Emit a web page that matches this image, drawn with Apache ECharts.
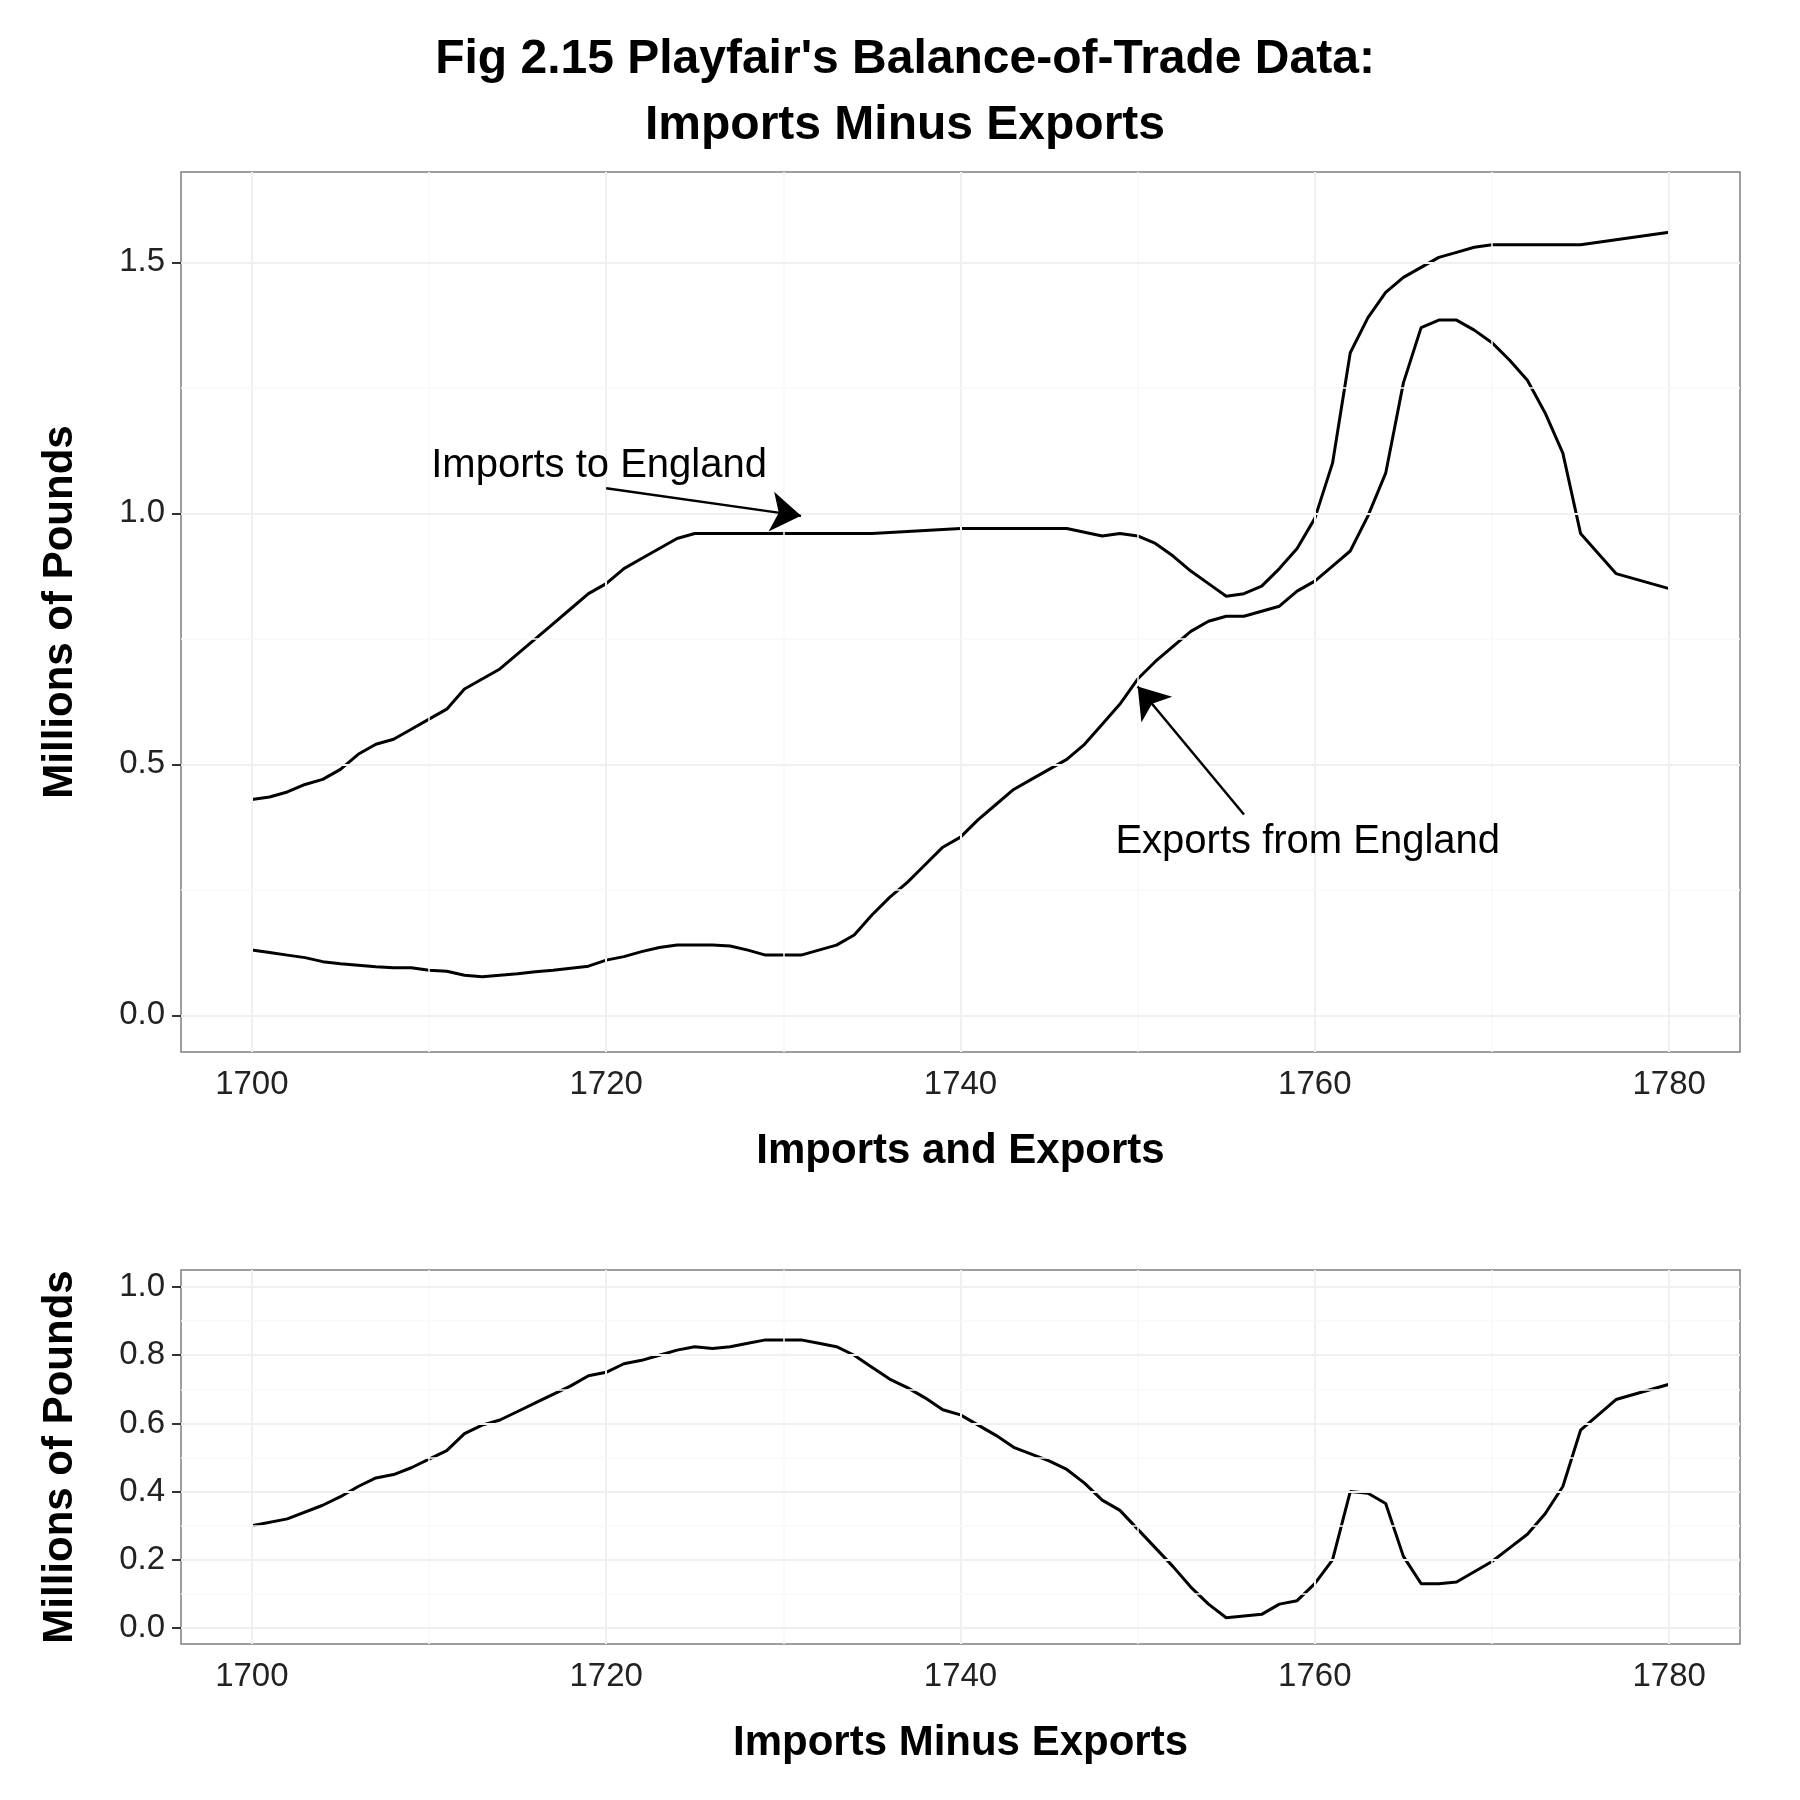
<!DOCTYPE html>
<html>
<head>
<meta charset="utf-8">
<script src="https://cdn.jsdelivr.net/npm/echarts@6/dist/echarts.min.js"></script>
<style>body{margin:0}#main{width:1800px;height:1800px}</style>
</head>
<body>
<div id="main"></div>
<script>
var impYears = [1700,1701,1702,1703,1704,1705,1706,1707,1708,1709,1710,1711,1712,1713,1714,1715,1716,1717,1718,1719,1720,1721,1722,1723,1724,1725,1730,1735,1740,1746,1748,1749,1750,1751,1752,1753,1754,1755,1756,1757,1758,1759,1760,1761,1762,1763,1764,1765,1766,1767,1768,1769,1770,1775,1780];
var imports = [0.43,0.435,0.445,0.46,0.47,0.49,0.52,0.54,0.55,0.57,0.59,0.61,0.65,0.67,0.69,0.72,0.75,0.78,0.81,0.84,0.86,0.89,0.91,0.93,0.95,0.96,0.96,0.96,0.97,0.97,0.955,0.96,0.955,0.94,0.915,0.885,0.86,0.835,0.84,0.855,0.89,0.93,0.99,1.1,1.32,1.39,1.44,1.47,1.49,1.51,1.52,1.53,1.535,1.535,1.56];
var expYears = [1700,1701,1702,1703,1704,1705,1706,1707,1708,1709,1710,1711,1712,1713,1714,1715,1716,1717,1718,1719,1720,1721,1722,1723,1724,1725,1726,1727,1728,1729,1730,1731,1732,1733,1734,1735,1736,1737,1738,1739,1740,1741,1742,1743,1744,1745,1746,1747,1748,1749,1750,1751,1752,1753,1754,1755,1756,1757,1758,1759,1760,1761,1762,1763,1764,1765,1766,1767,1768,1769,1770,1771,1772,1773,1774,1775,1777,1780];
var exportsV = [0.13,0.125,0.12,0.115,0.107,0.103,0.1,0.097,0.095,0.095,0.09,0.088,0.08,0.077,0.08,0.083,0.087,0.09,0.094,0.098,0.11,0.117,0.127,0.135,0.14,0.14,0.14,0.138,0.13,0.12,0.12,0.12,0.13,0.14,0.16,0.2,0.235,0.265,0.3,0.335,0.355,0.39,0.42,0.45,0.47,0.49,0.51,0.54,0.58,0.62,0.67,0.705,0.735,0.765,0.785,0.795,0.795,0.805,0.815,0.845,0.865,0.895,0.925,0.995,1.08,1.26,1.37,1.385,1.385,1.365,1.34,1.305,1.265,1.2,1.12,0.96,0.88,0.85];
var diffYears = [1700,1702,1704,1705,1706,1707,1708,1709,1710,1711,1712,1713,1714,1715,1716,1717,1718,1719,1720,1721,1722,1723,1724,1725,1726,1727,1728,1729,1730,1731,1732,1733,1734,1735,1736,1737,1738,1739,1740,1741,1742,1743,1744,1745,1746,1747,1748,1749,1750,1751,1752,1753,1754,1755,1756,1757,1758,1759,1760,1761,1762,1763,1764,1765,1766,1767,1768,1769,1770,1771,1772,1773,1774,1775,1777,1780];
var diffV = [0.3,0.32,0.36,0.385,0.415,0.44,0.45,0.47,0.495,0.52,0.57,0.595,0.61,0.635,0.66,0.685,0.71,0.74,0.75,0.775,0.785,0.8,0.815,0.825,0.82,0.825,0.835,0.845,0.845,0.845,0.835,0.825,0.8,0.765,0.73,0.705,0.675,0.64,0.625,0.595,0.565,0.53,0.51,0.49,0.465,0.425,0.375,0.345,0.29,0.235,0.18,0.12,0.07,0.03,0.035,0.04,0.07,0.08,0.13,0.2,0.4,0.395,0.365,0.21,0.13,0.13,0.135,0.165,0.195,0.235,0.275,0.335,0.415,0.58,0.67,0.715];
var xTicks = [1700, 1720, 1740, 1760, 1780];
var xGrid = [1700, 1710, 1720, 1730, 1740, 1750, 1760, 1770, 1780];
var yTicksTop = [0, 0.5, 1, 1.5];
var yGridTop = [0, 0.25, 0.5, 0.75, 1, 1.25, 1.5];
var yTicksBot = [0, 0.2, 0.4, 0.6, 0.8, 1.0];
var yGridBot = [0, 0.1, 0.2, 0.3, 0.4, 0.5, 0.6, 0.7, 0.8, 0.9, 1.0];

function zip(xs, ys) { return xs.map(function (x, i) { return [x, ys[i]]; }); }

var font = "Liberation Sans";
var tickLabel = { fontSize: 33, color: "#222", fontFamily: font, margin: 16 };
var nameStyle = { fontSize: 42, fontWeight: "bold", color: "#000", fontFamily: font };
var tickStyle = { show: true, length: 9, lineStyle: { color: "#333", width: 2 } };
function xAxis(idx, name, gap) {
  return {
    gridIndex: idx, type: "value", min: 1696, max: 1784,
    name: name, nameLocation: "middle", nameGap: gap, nameTextStyle: nameStyle,
    axisLine: { show: false },
    axisTick: Object.assign({ customValues: xTicks }, tickStyle),
    axisLabel: Object.assign({ customValues: xTicks, formatter: function (v) { return String(v); } }, tickLabel),
    splitLine: { show: false }
  };
}
function yAxis(idx, lo, hi, ticks) {
  return {
    gridIndex: idx, type: "value", min: lo, max: hi,
    name: "Millions of Pounds", nameLocation: "middle", nameGap: 100, nameTextStyle: nameStyle,
    axisLine: { show: false },
    axisTick: Object.assign({ customValues: ticks }, tickStyle),
    axisLabel: Object.assign({ customValues: ticks, formatter: function (v) { return v.toFixed(1); } }, tickLabel),
    splitLine: { show: false }
  };
}
function gridLines(xi, yi, ys, majorY) {
  var lines = xGrid.map(function (v) {
    var maj = v % 20 === 0;
    return { xAxis: v, lineStyle: { color: maj ? "#f0f0f0" : "#f8f8f8", width: maj ? 2 : 1.5, type: "solid" } };
  }).concat(ys.map(function (v) {
    var maj = majorY.indexOf(v) >= 0;
    return { yAxis: v, lineStyle: { color: maj ? "#f0f0f0" : "#f8f8f8", width: maj ? 2 : 1.5, type: "solid" } };
  }));
  return { type: "line", xAxisIndex: xi, yAxisIndex: yi, data: [], silent: true,
    markLine: { silent: true, symbol: "none", label: { show: false }, data: lines } };
}
var lineStyle = { color: "#000", width: 3 };

var myChart = echarts.init(document.getElementById("main"));
var option = {
  backgroundColor: "#fff",
  title: {
    text: "Fig 2.15 Playfair's Balance-of-Trade Data:\nImports Minus Exports",
    left: 900, top: 22, textAlign: "center",
    textStyle: { fontSize: 48, fontWeight: "bold", lineHeight: 66, fontFamily: font, color: "#000" }
  },
  grid: [
    { left: 181, right: 60, top: 172, height: 880, show: true, borderColor: "#7f7f7f", borderWidth: 1.5 },
    { left: 181, right: 60, top: 1270, height: 374, show: true, borderColor: "#7f7f7f", borderWidth: 1.5 }
  ],
  xAxis: [xAxis(0, "Imports and Exports", 78), xAxis(1, "Imports Minus Exports", 78)],
  yAxis: [yAxis(0, -0.073, 1.68, yTicksTop), yAxis(1, -0.047, 1.05, yTicksBot)],
  series: [
    gridLines(0, 0, yGridTop, yTicksTop),
    gridLines(1, 1, yGridBot, yTicksBot),
    {
      name: "Imports", type: "line", xAxisIndex: 0, yAxisIndex: 0, data: zip(impYears, imports),
      showSymbol: false, lineStyle: lineStyle, z: 3,
      markLine: {
        silent: true, symbol: ["none", "arrow"], symbolSize: 30, label: { show: false },
        lineStyle: { color: "#000", width: 2.5, type: "solid" },
        data: [
          [{ coord: [1720, 1.05] }, { coord: [1731, 0.995] }],
          [{ coord: [1756, 0.4] }, { coord: [1750, 0.655] }]
        ]
      },
      markPoint: {
        symbol: "circle", symbolSize: 0,
        label: { show: true, position: "inside", fontSize: 40, fontFamily: font, color: "#000", formatter: "{b}" },
        data: [
          { name: "Imports to England", coord: [1719.6, 1.095] },
          { name: "Exports from England", coord: [1759.6, 0.345] }
        ]
      }
    },
    {
      name: "Exports", type: "line", xAxisIndex: 0, yAxisIndex: 0, data: zip(expYears, exportsV),
      showSymbol: false, lineStyle: lineStyle, z: 3
    },
    {
      name: "Difference", type: "line", xAxisIndex: 1, yAxisIndex: 1, data: zip(diffYears, diffV),
      showSymbol: false, lineStyle: lineStyle, z: 3
    }
  ]
};
myChart.setOption(option);
</script>
</body>
</html>
